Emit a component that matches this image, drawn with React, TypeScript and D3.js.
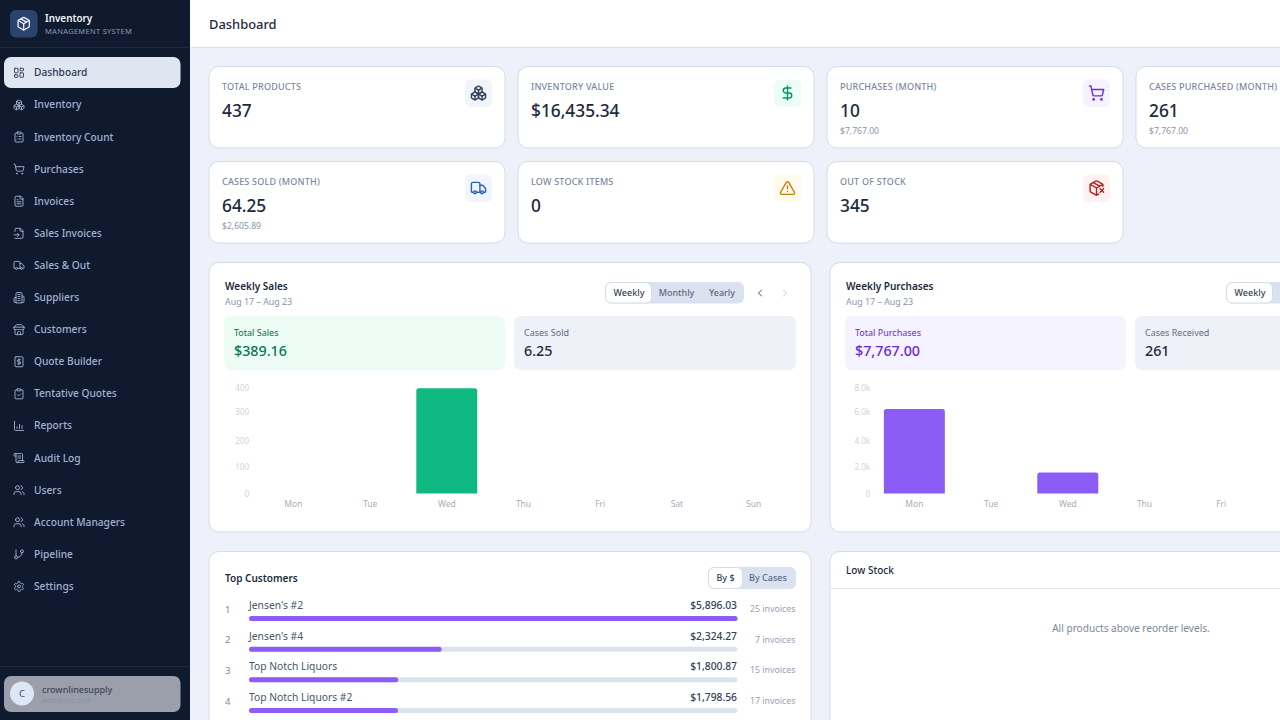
import React, { useEffect, useRef } from 'react';
import * as d3 from 'd3';

// ---- data ----
const navLabels = ['Dashboard', 'Inventory', 'Inventory Count', 'Purchases', 'Invoices', 'Sales Invoices', 'Sales & Out', 'Suppliers', 'Customers', 'Quote Builder', 'Tentative Quotes', 'Reports', 'Audit Log', 'Users', 'Account Managers', 'Pipeline', 'Settings'];
const navIcons = ['dashboard', 'boxes', 'clipboardList', 'cart', 'file', 'fileInput', 'truck', 'building', 'store', 'quote', 'clipboardCheck', 'chart', 'scroll', 'users', 'users', 'branch', 'gear'];

const kpiLabels = ['TOTAL PRODUCTS', 'INVENTORY VALUE', 'PURCHASES (MONTH)', 'CASES PURCHASED (MONTH)', 'CASES SOLD (MONTH)', 'LOW STOCK ITEMS', 'OUT OF STOCK'];
const kpiValues = ['437', '$16,435.34', '10', '261', '64.25', '0', '345'];
const kpiSubs = ['', '', '$7,767.00', '$7,767.00', '$2,605.89', '', ''];
const kpiIcons = ['boxes', 'dollar', 'cart', 'boxes', 'truck', 'alert', 'packageX'];
const kpiTints = ['#f1f5f9', '#ecfdf5', '#f6f3fe', '#f1f5f9', '#f1f6fe', '#fefbec', '#fdf2f2'];
const kpiInks = ['#334155', '#059669', '#6d33d0', '#334155', '#2b5fbf', '#c47d0e', '#b91c1c'];

const days = ['Mon', 'Tue', 'Wed', 'Thu', 'Fri', 'Sat', 'Sun'];
const salesValues = [0, 0, 399, 0, 0, 0, 0];
const salesTicks = [0, 100, 200, 300, 400];
const purchaseValues = [6400, 0, 1595, 0, 0, 0, 0];
const purchaseTicks = [0, 2000, 4000, 6000, 8000];

const customerNames = ["Jensen's #2", "Jensen's #4", 'Top Notch Liquors', 'Top Notch Liquors #2'];
const customerSales = [5896.03, 2324.27, 1800.87, 1798.56];
const customerInvoices = [25, 7, 15, 17];

// ---- icons, on a 24 unit grid ----
const circ = (x: number, y: number, r: number) => `M${x - r} ${y}a${r} ${r} 0 1 0 ${2 * r} 0a${r} ${r} 0 1 0 ${-2 * r} 0Z`;
const box = (x: number, y: number, w: number, h: number, r: number) =>
  `M${x + r} ${y}h${w - 2 * r}a${r} ${r} 0 0 1 ${r} ${r}v${h - 2 * r}a${r} ${r} 0 0 1 ${-r} ${r}h${-(w - 2 * r)}a${r} ${r} 0 0 1 ${-r} ${-r}v${-(h - 2 * r)}a${r} ${r} 0 0 1 ${r} ${-r}Z`;
const clipboard = 'M16 4h2a2 2 0 0 1 2 2v14a2 2 0 0 1-2 2H6a2 2 0 0 1-2-2V6a2 2 0 0 1 2-2h2';

const ICONS: Record<string, string[]> = {
  dashboard: [box(3, 3, 7, 9, 1), box(14, 3, 7, 5, 1), box(14, 12, 7, 9, 1), box(3, 16, 7, 5, 1)],
  boxes: ['M2.97 12.92A2 2 0 0 0 2 14.63v3.24a2 2 0 0 0 .97 1.71l3 1.8a2 2 0 0 0 2.06 0L12 19v-5.5l-5-3-4.03 2.42Z', 'm7 16.5-4.74-2.85', 'm7 16.5 5-3', 'M7 16.5v5.17', 'M12 13.5V19l3.97 2.38a2 2 0 0 0 2.06 0l3-1.8a2 2 0 0 0 .97-1.71v-3.24a2 2 0 0 0-.97-1.71L17 10.5l-5 3Z', 'm17 16.5-5-3', 'm17 16.5 4.74-2.85', 'M17 16.5v5.17', 'M7.97 4.42A2 2 0 0 0 7 6.13v4.37l5 3 5-3V6.13a2 2 0 0 0-.97-1.71l-3-1.8a2 2 0 0 0-2.06 0l-3 1.8Z', 'M12 8 7.26 5.15', 'm12 8 4.74-2.85', 'M12 13.5V8'],
  clipboardList: [box(8, 2, 8, 4, 1), clipboard, 'M12 11h4', 'M12 16h4', 'M8 11h.01', 'M8 16h.01'],
  clipboardCheck: [box(8, 2, 8, 4, 1), clipboard, 'm9 14 2 2 4-4'],
  cart: [circ(8, 21, 1), circ(19, 21, 1), 'M2.05 2.05h2l2.66 12.42a2 2 0 0 0 2 1.58h9.78a2 2 0 0 0 1.95-1.57l1.65-7.43H5.12'],
  file: ['M15 2H6a2 2 0 0 0-2 2v16a2 2 0 0 0 2 2h12a2 2 0 0 0 2-2V7Z', 'M14 2v4a2 2 0 0 0 2 2h4', 'M10 9H8', 'M16 13H8', 'M16 17H8'],
  fileInput: ['M4 22h14a2 2 0 0 0 2-2V7l-5-5H6a2 2 0 0 0-2 2v4', 'M14 2v4a2 2 0 0 0 2 2h4', 'M2 15h10', 'm9 18 3-3-3-3'],
  truck: ['M14 18V6a2 2 0 0 0-2-2H4a2 2 0 0 0-2 2v11a1 1 0 0 0 1 1h2', 'M15 18H9', 'M19 18h2a1 1 0 0 0 1-1v-3.65a1 1 0 0 0-.22-.624l-3.48-4.35A1 1 0 0 0 17.52 8H14', circ(17, 18, 2), circ(7, 18, 2)],
  building: ['M6 22V4a2 2 0 0 1 2-2h8a2 2 0 0 1 2 2v18Z', 'M6 12H4a2 2 0 0 0-2 2v6a2 2 0 0 0 2 2h2', 'M18 9h2a2 2 0 0 1 2 2v9a2 2 0 0 1-2 2h-2', 'M10 6h4', 'M10 10h4', 'M10 14h4', 'M10 18h4'],
  store: ['m2 7 4.41-4.41A2 2 0 0 1 7.83 2h8.34a2 2 0 0 1 1.42.59L22 7', 'M4 12v8a2 2 0 0 0 2 2h12a2 2 0 0 0 2-2v-8', 'M15 22v-4a2 2 0 0 0-2-2h-2a2 2 0 0 0-2 2v4', 'M2 7h20', 'M22 7v3a2 2 0 0 1-2 2a2.7 2.7 0 0 1-1.59-.63.7.7 0 0 0-.82 0A2.7 2.7 0 0 1 16 12a2.7 2.7 0 0 1-1.59-.63.7.7 0 0 0-.82 0A2.7 2.7 0 0 1 12 12a2.7 2.7 0 0 1-1.59-.63.7.7 0 0 0-.82 0A2.7 2.7 0 0 1 8 12a2.7 2.7 0 0 1-1.59-.63.7.7 0 0 0-.82 0A2.7 2.7 0 0 1 4 12a2 2 0 0 1-2-2V7'],
  quote: [box(4, 2, 16, 20, 2), 'M15 8h-4.5a2 2 0 0 0 0 4h3a2 2 0 0 1 0 4H9', 'M12 6v12'],
  chart: ['M3 3v16a2 2 0 0 0 2 2h16', 'M8 17v-3', 'M13 17V9', 'M18 17v-6'],
  scroll: ['M15 12h-5', 'M15 8h-5', 'M19 17V5a2 2 0 0 0-2-2H4', 'M8 21h12a2 2 0 0 0 2-2v-1a1 1 0 0 0-1-1H11a1 1 0 0 0-1 1v1a2 2 0 1 1-4 0V5a2 2 0 1 0-4 0v2a1 1 0 0 0 1 1h3'],
  users: ['M16 21v-2a4 4 0 0 0-4-4H6a4 4 0 0 0-4 4v2', circ(9, 7, 4), 'M22 21v-2a4 4 0 0 0-3-3.87', 'M16 3.13a4 4 0 0 1 0 7.75'],
  branch: ['M6 3v12', circ(18, 6, 3), circ(6, 18, 3), 'M18 9a9 9 0 0 1-9 9'],
  gear: ['M12.22 2h-.44a2 2 0 0 0-2 2v.18a2 2 0 0 1-1 1.73l-.43.25a2 2 0 0 1-2 0l-.15-.08a2 2 0 0 0-2.73.73l-.22.38a2 2 0 0 0 .73 2.73l.15.1a2 2 0 0 1 1 1.72v.51a2 2 0 0 1-1 1.74l-.15.09a2 2 0 0 0-.73 2.73l.22.38a2 2 0 0 0 2.73.73l.15-.08a2 2 0 0 1 2 0l.43.25a2 2 0 0 1 1 1.73V20a2 2 0 0 0 2 2h.44a2 2 0 0 0 2-2v-.18a2 2 0 0 1 1-1.73l.43-.25a2 2 0 0 1 2 0l.15.08a2 2 0 0 0 2.73-.73l.22-.39a2 2 0 0 0-.73-2.73l-.15-.08a2 2 0 0 1-1-1.74v-.5a2 2 0 0 1 1-1.74l.15-.09a2 2 0 0 0 .73-2.73l-.22-.38a2 2 0 0 0-2.73-.73l-.15.08a2 2 0 0 1-2 0l-.43-.25a2 2 0 0 1-1-1.73V4a2 2 0 0 0-2-2z', circ(12, 12, 3)],
  pkg: ['M11 21.73a2 2 0 0 0 2 0l7-4A2 2 0 0 0 21 16V8a2 2 0 0 0-1-1.73l-7-4a2 2 0 0 0-2 0l-7 4A2 2 0 0 0 3 8v8a2 2 0 0 0 1 1.73z', 'M12 22V12', 'm3.3 7 8.7 5 8.7-5', 'm7.5 4.27 9 5.15'],
  packageX: ['M21 10V8a2 2 0 0 0-1-1.73l-7-4a2 2 0 0 0-2 0l-7 4A2 2 0 0 0 3 8v8a2 2 0 0 0 1 1.73l7 4a2 2 0 0 0 2 0l2-1.14', 'm7.5 4.27 9 5.15', 'M3.29 7 12 12l8.71-5', 'M12 22V12', 'm17 13 5 5', 'm22 13-5 5'],
  dollar: ['M12 2v20', 'M17 5H9.5a3.5 3.5 0 0 0 0 7h5a3.5 3.5 0 0 1 0 7H6'],
  alert: ['m21.73 18-8-14a2 2 0 0 0-3.48 0l-8 14A2 2 0 0 0 4 21h16a2 2 0 0 0 1.73-3', 'M12 9v4', 'M12 17h.01'],
  left: ['m15 18-6-6 6-6'],
  right: ['m9 18 6-6-6-6'],
};

const Icon = ({ name, cx, cy, size, color, sw = 2 }: { name: string; cx: number; cy: number; size: number; color: string; sw?: number }) => (
  <g transform={`translate(${cx - size / 2},${cy - size / 2}) scale(${size / 24})`} fill="none" stroke={color} strokeWidth={sw} strokeLinecap="round" strokeLinejoin="round">
    {ICONS[name].map((d, i) => <path key={i} d={d} />)}
  </g>
);

const FONT = '"Noto Sans", sans-serif';
const INK = '#1e293b';

const Txt = ({ x, y, size, color, weight = 400, anchor = 'start', spacing, children }: any) => (
  <text x={x} y={y - 0.5} fontSize={size} fill={color} fontWeight={weight} textAnchor={anchor} dominantBaseline="central" letterSpacing={spacing}>{children}</text>
);

const Card = ({ x, y, w, h }: { x: number; y: number; w: number; h: number }) => (
  <rect x={x} y={y} width={w} height={h} rx={10} fill="#fff" stroke="#d5dbe7" />
);

const Sidebar = () => {
  const rowY = d3.scaleLinear().domain([0, navLabels.length - 1]).range([72.8, 586.5]);
  return (
    <g>
      <rect width={190} height={720} fill="#0f1a2e" />
      <rect x={0} y={47} width={190} height={1} fill="#1e2a3f" />
      <rect x={10} y={10} width={27.5} height={27.5} rx={6} fill="#2b446e" />
      <Icon name="pkg" cx={23.7} cy={23.7} size={15} color="#f1f5f9" />
      <Txt x={45} y={18.5} size={9.9} weight={600} color="#f1f5f9">Inventory</Txt>
      <Txt x={45} y={31} size={7.5} color="#8a9bb8" spacing={0.3}>MANAGEMENT SYSTEM</Txt>
      <rect x={4} y={57} width={176.5} height={31} rx={7} fill="#dde6f1" />
      {navLabels.map((label, i) => (
        <g key={label}>
          <Icon name={navIcons[i]} cx={19} cy={rowY(i)} size={12} sw={1.8} color={i === 0 ? '#2b3a52' : '#a5b4d0'} />
          <Txt x={34} y={rowY(i)} size={10.2} weight={500} color={i === 0 ? '#2b3a52' : '#a1b1d4'}>{label}</Txt>
        </g>
      ))}
      <rect x={0} y={666} width={190} height={1} fill="#1e2a3f" />
      <rect x={4} y={676} width={176.5} height={36} rx={7} fill="#9a9fab" />
      <circle cx={22} cy={693.5} r={12} fill="#dce6f4" />
      <Txt x={22} y={694} size={9.5} anchor="middle" color="#475569">C</Txt>
      <Txt x={42} y={689.5} size={9} weight={500} color="#3d4759">crownlinesupply</Txt>
      <Txt x={42} y={700.5} size={7.5} color="#8b93a3">Administrator</Txt>
    </g>
  );
};

const KpiCard = ({ i }: { i: number }) => {
  const col = i < 4 ? i : i - 4;
  const x = 209 + col * 309;
  const y = i < 4 ? 66.5 : 161.5;
  return (
    <g>
      <Card x={x} y={y} w={296} h={81.5} />
      <Txt x={x + 13} y={y + 20} size={9} weight={500} color="#7c879c" spacing={0.2}>{kpiLabels[i]}</Txt>
      <Txt x={x + 13} y={y + 44} size={17.3} weight={500} color={INK}>{kpiValues[i]}</Txt>
      {kpiSubs[i] && <Txt x={x + 13} y={y + 64.5} size={8.6} color="#8b95a7">{kpiSubs[i]}</Txt>}
      <rect x={x + 256} y={y + 13} width={27} height={27.5} rx={6} fill={kpiTints[i]} />
      <Icon name={kpiIcons[i]} cx={x + 269.5} cy={y + 26.5} size={17} color={kpiInks[i]} />
    </g>
  );
};

const Toggle = ({ x, y, w, h, active, labels, centers }: any) => (
  <g>
    <rect x={x} y={y} width={w} height={h} rx={6} fill="#d9e2ee" />
    <rect x={x + 0.5} y={y + 0.5} width={active} height={h - 1} rx={5.5} fill="#fff" stroke="#d5dce7" />
    {labels.map((l: string, i: number) => (
      <Txt key={l} x={x + centers[i]} y={y + h / 2} size={9} weight={500} anchor="middle" color={i === 0 ? '#334155' : '#5a6b88'}>{l}</Txt>
    ))}
  </g>
);

const StatBox = ({ x, w, fill, label, labelColor, value, valueColor }: any) => (
  <g>
    <rect x={x} y={316} width={w} height={54} rx={7} fill={fill} />
    <Txt x={x + 10} y={332.5} size={9} color={labelColor}>{label}</Txt>
    <Txt x={x + 10} y={351} size={14.3} weight={500} color={valueColor}>{value}</Txt>
  </g>
);

// rounded top corners only
const topRounded = (x: number, y: number, w: number, h: number, r: number) =>
  `M${x} ${y + h}V${y + r}Q${x} ${y} ${x + r} ${y}H${x + w - r}Q${x + w} ${y} ${x + w} ${y + r}V${y + h}Z`;

const WeekChart = ({ dx, values, ticks, color, fmt }: { dx: number; values: number[]; ticks: number[]; color: string; fmt: (v: number) => string }) => {
  const axisRef = useRef<SVGGElement>(null);
  const x = d3.scaleBand<string>().domain(days).range([255 + dx, 792 + dx]).paddingInner(0.205).paddingOuter(0.1025);
  const y = d3.scaleLinear().domain([0, ticks[ticks.length - 1]]).range([493.5, 388]);

  useEffect(() => {
    if (!axisRef.current) return;
    const g = d3.select(axisRef.current);
    g.call(d3.axisLeft(y).tickValues(ticks).tickSize(0).tickPadding(0).tickFormat((v: any) => fmt(v)) as any);
    g.select('.domain').remove();
    g.selectAll('text').attr('fill', '#d0d4da').attr('font-size', 8).attr('font-family', FONT);
    // the original's fourth label sits a little above its even spacing
    g.selectAll('.tick text').filter((_, i) => i === 3).attr('y', -2);
  }, []);

  return (
    <g>
      <g ref={axisRef} transform={`translate(${249 + dx},0)`} />
      {values.map((v, i) => v > 0 && (
        <path key={days[i]} d={topRounded(x(days[i])!, y(v), x.bandwidth(), y(0) - y(v), 2.5)} fill={color} />
      ))}
      {days.map(d => (
        <Txt key={d} x={x(d)! + x.bandwidth() / 2} y={503.5} size={8.5} anchor="middle" color="#a9adb5">{d}</Txt>
      ))}
    </g>
  );
};

const ChartPanel = ({ dx, title, statA, statB, values, ticks, color, fmt }: any) => (
  <g>
    <Card x={209 + dx} y={262.5} w={602} h={269.5} />
    <Txt x={225 + dx} y={286} size={10} weight={600} color={INK}>{title}</Txt>
    <Txt x={225 + dx} y={301.5} size={8.9} color="#8b95a7">Aug 17 – Aug 23</Txt>
    <Toggle x={605 + dx} y={282} w={139} h={21.5} active={46} labels={['Weekly', 'Monthly', 'Yearly']} centers={[24, 71.5, 117]} />
    <Icon name="left" cx={760 + dx} cy={293} size={12} color="#475569" />
    <Icon name="right" cx={785 + dx} cy={293} size={12} color="#c3cad6" />
    <StatBox x={224 + dx} w={281} {...statA} />
    <StatBox x={514 + dx} w={282} fill="#eef1f8" label={statB.label} labelColor="#5f6b80" value={statB.value} valueColor={INK} />
    <WeekChart dx={dx} values={values} ticks={ticks} color={color} fmt={fmt} />
  </g>
);

const TopCustomers = () => {
  const w = d3.scaleLinear().domain([0, d3.max(customerSales)!]).range([0, 488.5]);
  const rowY = d3.scaleLinear().domain([0, 3]).range([618.5, 710.5]);
  return (
    <g>
      <Card x={209} y={551.5} w={602} h={240} />
      <Txt x={225} y={578} size={10} weight={600} color={INK}>Top Customers</Txt>
      <Toggle x={708} y={567} w={88} h={22} active={34} labels={['By $', 'By Cases']} centers={[17.5, 60]} />
      {customerNames.map((name, i) => {
        const cy = rowY(i);
        return (
          <g key={name}>
            <Txt x={225} y={cy - 9} size={9.5} color="#7c879c">{i + 1}</Txt>
            <Txt x={249} y={cy - 13} size={10.3} color="#475569">{name}</Txt>
            <rect x={249} y={cy - 2.5} width={488.5} height={5} rx={2.5} fill="#dde3ec" />
            <rect x={249} y={cy - 2.5} width={w(customerSales[i])} height={5} rx={2.5} fill="#8b5cf6" />
            <Txt x={737} y={cy - 13} size={10.3} weight={500} anchor="end" color="#334155">{d3.format('$,.2f')(customerSales[i])}</Txt>
            <Txt x={795.5} y={cy - 9} size={8.8} anchor="end" color="#98a2b3">{`${customerInvoices[i]} invoices`}</Txt>
          </g>
        );
      })}
    </g>
  );
};

const LowStock = () => (
  <g>
    <Card x={830} y={551.5} w={602} h={240} />
    <rect x={830.5} y={588} width={601} height={1} fill="#e2e7ef" />
    <Txt x={846} y={570} size={10} weight={500} color={INK}>Low Stock</Txt>
    <Txt x={1131} y={628} size={10.1} anchor="middle" color="#7c879c">All products above reorder levels.</Txt>
  </g>
);

export default function App() {
  return (
    <svg width={1280} height={720} viewBox="0 0 1280 720" style={{ position: 'fixed', left: 0, top: 0, display: 'block' }} fontFamily={FONT}>
      <rect width={1280} height={720} fill="#eef1f9" />
      <rect x={190} width={1090} height={47} fill="#fff" />
      <rect x={190} y={47} width={1090} height={1} fill="#dbe1ec" />
      <Txt x={209} y={24.5} size={12.9} weight={500} color={INK}>Dashboard</Txt>
      {kpiLabels.map((_, i) => <KpiCard key={i} i={i} />)}
      <ChartPanel
        dx={0}
        title="Weekly Sales"
        statA={{ fill: '#ecfcf4', label: 'Total Sales', labelColor: '#0f6b50', value: '$389.16', valueColor: '#047857' }}
        statB={{ label: 'Cases Sold', value: '6.25' }}
        values={salesValues}
        ticks={salesTicks}
        color="#10b981"
        fmt={(v: number) => String(v)}
      />
      <ChartPanel
        dx={621}
        title="Weekly Purchases"
        statA={{ fill: '#f5f3ff', label: 'Total Purchases', labelColor: '#6d28d9', value: '$7,767.00', valueColor: '#6d28d9' }}
        statB={{ label: 'Cases Received', value: '261' }}
        values={purchaseValues}
        ticks={purchaseTicks}
        color="#8b5cf6"
        fmt={(v: number) => (v === 0 ? '0' : `${d3.format('.1f')(v / 1000)}k`)}
      />
      <TopCustomers />
      <LowStock />
      <Sidebar />
    </svg>
  );
}
